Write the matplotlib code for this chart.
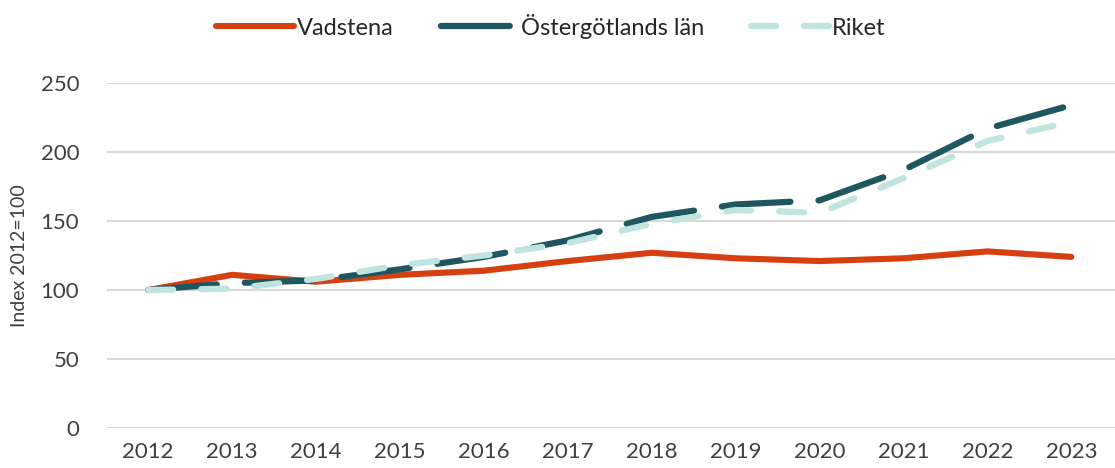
import matplotlib
matplotlib.use('Agg')
import matplotlib.pyplot as plt

# Data (index 2012=100)
years = [2012, 2013, 2014, 2015, 2016, 2017, 2018, 2019, 2020, 2021, 2022, 2023]
vadstena = [100, 111, 106, 111, 114, 121, 127, 123, 121, 123, 128, 124]
ostergotland = [100, 105, 107, 115, 124, 136, 153, 162, 165, 187, 217, 234]
riket = [100, 101, 108, 118, 125, 134, 148, 158, 156, 181, 208, 222]

plt.rcParams['font.family'] = ['Lato', 'DejaVu Sans']

fig = plt.figure(figsize=(11.15, 4.68), dpi=100)
ax = fig.add_axes([0.096, 0.0855, 0.904, 0.737])

x = list(range(len(years)))
ax.plot(x, vadstena, color='#d63f0f', linewidth=4.4, solid_capstyle='round',
        solid_joinstyle='miter', label='Vadstena', zorder=3)
ax.plot(x, ostergotland, color='#1f5760', linewidth=4.5, dashes=(11, 4.5),
        dash_capstyle='round', label='Östergötlands län', zorder=4)
ax.plot(x, riket, color='#c0e4df', linewidth=4.5, dashes=(4, 4.5),
        dash_capstyle='round', label='Riket', zorder=5)

ax.set_xlim(-0.49, len(years) - 0.48)
ax.set_ylim(0, 250)
ax.set_yticks([0, 50, 100, 150, 200, 250])
ax.set_xticks(x)
ax.set_xticklabels([str(y) for y in years])
ax.tick_params(axis='both', length=0, labelsize=16, labelcolor='#404040')
ax.tick_params(axis='x', pad=10)
ax.tick_params(axis='y', pad=20)
ax.grid(axis='y', color='#d9d9d9', linewidth=1.5)
ax.set_axisbelow(True)
for s in ax.spines.values():
    s.set_visible(False)
ax.set_ylabel('Index 2012=100', fontsize=14, color='#404040', labelpad=9)

fig.legend(loc='center', bbox_to_anchor=(0.494, 0.944), ncol=3,
           frameon=False, fontsize=17, handlelength=3.3, handletextpad=0.1,
           columnspacing=2.0, labelcolor='#262626')

fig.savefig('out.png', dpi=100)
